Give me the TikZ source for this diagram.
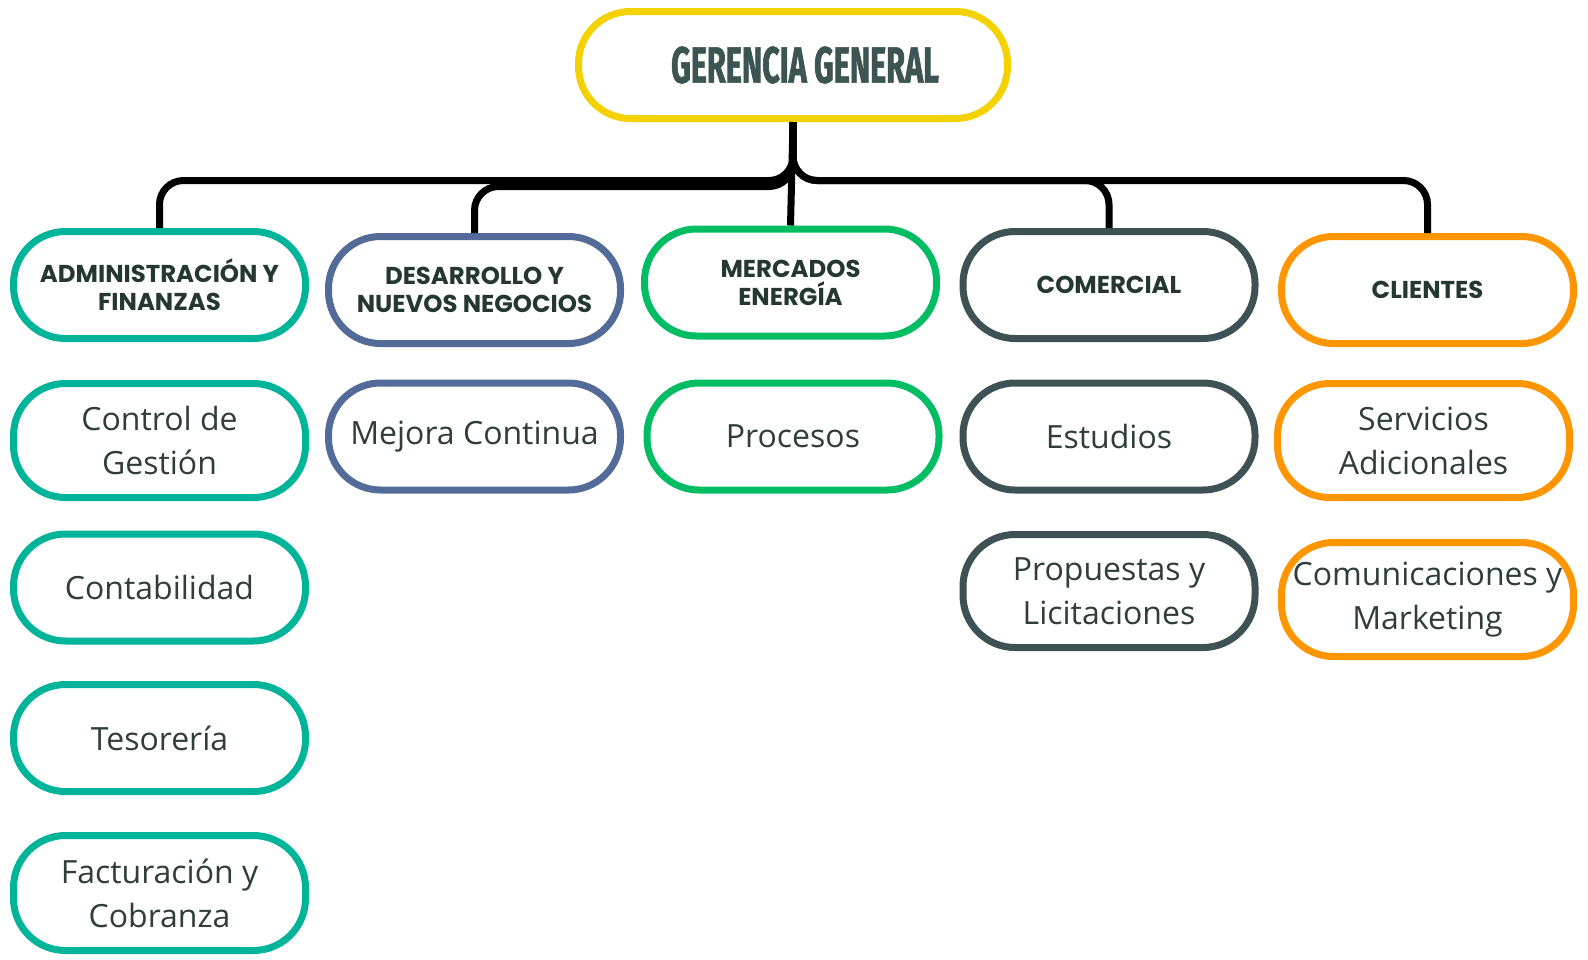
\documentclass[tikz,border=0pt]{standalone}
\usepackage{fontspec}
\setmainfont{Open Sans}
\newfontfamily\areafont{Poppins}
\newfontfamily\gerfont[FakeStretch=0.6,FakeBold=1.2]{Fira Sans}

\definecolor{gergold}{HTML}{F4D100}
\definecolor{admteal}{HTML}{00B49A}
\definecolor{desblue}{HTML}{536B98}
\definecolor{mergreen}{HTML}{00BD63}
\definecolor{comslate}{HTML}{3E5255}
\definecolor{cliorange}{HTML}{FF9600}
\definecolor{geretext}{HTML}{3D5454}
\definecolor{areatext}{HTML}{253731}
\definecolor{unittext}{HTML}{2F3E3B}

\tikzset{
    box/.style={draw, line width=3.5pt, rounded corners=26pt, fill=white, align=center,
        minimum width=146pt, minimum height=53.5pt, inner sep=2pt},
    area/.style={box, text=areatext, font=\areafont\bfseries\fontsize{12.2}{14}\selectfont},
    unit/.style={box, text=unittext, font=\fontsize{16}{22}\selectfont},
    conn/.style={line width=3.5pt, rounded corners=12pt},
}

\begin{document}
\begin{tikzpicture}[x=0.5pt,y=-0.5pt]
        \useasboundingbox (0,0) rectangle (1588,959);

        % top
            \node[box, draw=gergold, minimum width=214.5pt, text=geretext,
                font=\gerfont\bfseries\fontsize{25.5}{30}\selectfont] (ger) at (793,65) {\kern12pt GERENCIA GENERAL};

        % areas
            \node[area, draw=admteal] (adm) at (159.5,285) {ADMINISTRACIÓN Y\\FINANZAS};
            \node[area, draw=desblue] (des) at (474.5,290) {DESARROLLO Y\\NUEVOS NEGOCIOS};
            \node[area, draw=mergreen] (mer) at (790.5,282.5) {MERCADOS\\ENERGÍA};
            \node[area, draw=comslate] (com) at (1109,285) {COMERCIAL};
            \node[area, draw=cliorange] (cli) at (1427.5,290) {CLIENTES};

        % connectors
            \draw[conn] (ger.south) -- ++(0,58.5) -| (adm.north);
            \draw[conn] (ger.south) -- ++(0,64.5) -| (des.north);
            \draw[conn] (ger.south) -- ++(0,58.5) -| (com.north);
            \draw[conn] (ger.south) -- ++(0,58.5) -| (cli.north);
            \draw[line width=3.5pt] (ger.south) -- (mer.north);

        % units
            \node[unit, draw=admteal, minimum height=57pt] (ctrl) at (159.5,440.5) {Control de\\Gestión};
            \node[unit, draw=admteal] (cont) at (159.5,587.5) {Contabilidad};
            \node[unit, draw=admteal] (tes) at (159.5,738) {Tesorería};
            \node[unit, draw=admteal, minimum height=57.5pt] (fac) at (159.5,893) {Facturación y\\Cobranza};
            \node[unit, draw=desblue] (mej) at (474.5,436.5) {Mejora Continua};
            \node[unit, draw=mergreen] (proc) at (793,436.5) {Procesos};
            \node[unit, draw=comslate] (est) at (1109,436.5) {Estudios};
            \node[unit, draw=comslate, minimum height=56.5pt] (prop) at (1109,591) {Propuestas y\\Licitaciones};
            \node[unit, draw=cliorange, minimum height=57pt] (serv) at (1423.5,440.5) {Servicios\\Adicionales};
            \node[unit, draw=cliorange, minimum height=57pt] (comu) at (1427.5,599.5) {Comunicaciones y\\Marketing};
        \end{tikzpicture}
\end{document}
